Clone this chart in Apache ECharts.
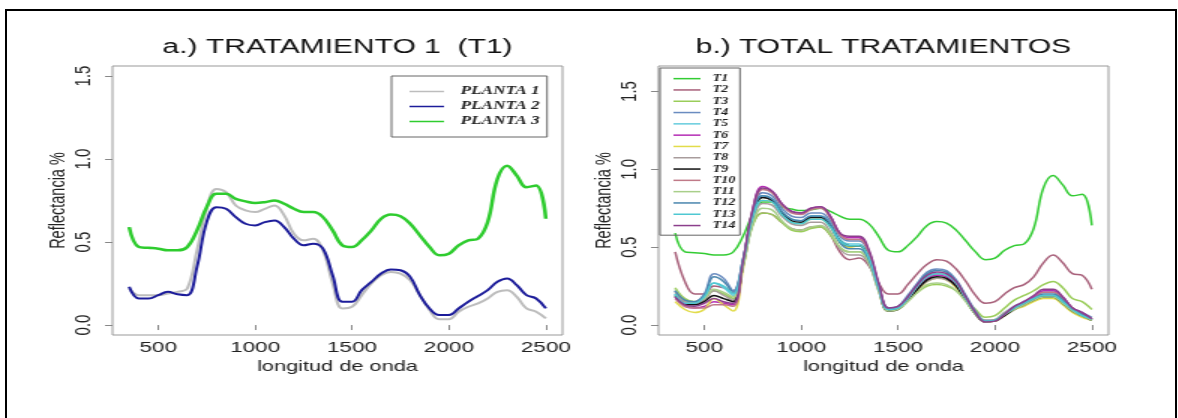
<!DOCTYPE html>
<html>
<head>
<meta charset="utf-8">
<title>Reflectancia</title>
<script src="https://cdn.jsdelivr.net/npm/echarts@6.0.0/dist/echarts.min.js"></script>
<style>
  html, body { margin: 0; padding: 0; background: #fff; }
  #chart { position: absolute; left: 0; top: 0; width: 785px; height: 418px;
           transform: scaleX(1.5); transform-origin: 0 0; }
  #frame { position: absolute; left: 5px; top: 9px; width: 1172px; height: 420px;
           border: 2.5px solid #000; border-bottom: none; box-sizing: border-box; pointer-events: none; }
</style>
</head>
<body>
<div id="chart"></div>
<div id="frame"></div>
<script>
// longitudes de onda (nm)
const wavelengths = [350, 400, 450, 500, 550, 600, 650, 700, 750, 800, 850, 900, 950, 1000, 1050, 1100,
  1150, 1200, 1250, 1300, 1350, 1400, 1450, 1500, 1550, 1600, 1650, 1700, 1750, 1800, 1850, 1900,
  1950, 2000, 2050, 2100, 2150, 2200, 2250, 2300, 2350, 2400, 2450, 2500]

const xTicks = [500, 1000, 1500, 2000, 2500]
const yTicks = [0, 0.5, 1.0, 1.5]

// a.) tratamiento 1
const planta1 = [0.22, 0.18, 0.18, 0.18, 0.19, 0.20, 0.22, 0.45, 0.70, 0.82, 0.80, 0.72, 0.69, 0.68, 0.70, 0.72,
  0.66, 0.55, 0.51, 0.52, 0.45, 0.25, 0.10, 0.11, 0.18, 0.25, 0.30, 0.32, 0.31, 0.27, 0.18, 0.09,
  0.035, 0.035, 0.08, 0.11, 0.13, 0.16, 0.20, 0.21, 0.17, 0.10, 0.08, 0.04]
const planta2 = [0.23, 0.16, 0.16, 0.18, 0.20, 0.185, 0.18, 0.35, 0.62, 0.71, 0.70, 0.65, 0.61, 0.60, 0.62, 0.63,
  0.59, 0.52, 0.48, 0.49, 0.46, 0.30, 0.14, 0.14, 0.21, 0.26, 0.31, 0.335, 0.33, 0.29, 0.18, 0.10,
  0.06, 0.06, 0.10, 0.14, 0.175, 0.21, 0.26, 0.28, 0.24, 0.18, 0.16, 0.10]
const planta3 = [0.59, 0.47, 0.465, 0.46, 0.45, 0.45, 0.47, 0.57, 0.71, 0.79, 0.79, 0.76, 0.745, 0.735, 0.74, 0.75,
  0.73, 0.70, 0.68, 0.68, 0.65, 0.57, 0.48, 0.47, 0.51, 0.57, 0.64, 0.665, 0.655, 0.61, 0.54, 0.47,
  0.42, 0.43, 0.48, 0.51, 0.52, 0.62, 0.88, 0.96, 0.90, 0.83, 0.84, 0.64]

// b.) total tratamientos
const t1 = planta3
const t2 = [0.47, 0.28, 0.20, 0.20, 0.25, 0.24, 0.22, 0.40, 0.65, 0.72, 0.71, 0.66, 0.62, 0.61, 0.63, 0.63,
  0.58, 0.47, 0.42, 0.43, 0.38, 0.27, 0.20, 0.20, 0.26, 0.33, 0.39, 0.42, 0.41, 0.36, 0.28, 0.19,
  0.14, 0.15, 0.20, 0.24, 0.26, 0.31, 0.40, 0.45, 0.40, 0.33, 0.32, 0.23]
const t3 = [0.24, 0.17, 0.15, 0.17, 0.22, 0.20, 0.17, 0.38, 0.64, 0.72, 0.71, 0.66, 0.61, 0.60, 0.62, 0.63,
  0.58, 0.50, 0.47, 0.47, 0.40, 0.23, 0.10, 0.11, 0.16, 0.21, 0.25, 0.26, 0.25, 0.22, 0.16, 0.10,
  0.05, 0.06, 0.11, 0.16, 0.19, 0.22, 0.26, 0.28, 0.24, 0.17, 0.15, 0.10]
const t4 = [0.22, 0.15, 0.15, 0.20, 0.33, 0.30, 0.22, 0.42, 0.72, 0.85, 0.83, 0.75, 0.70, 0.69, 0.72, 0.72,
  0.67, 0.57, 0.54, 0.54, 0.46, 0.26, 0.11, 0.12, 0.19, 0.27, 0.34, 0.36, 0.35, 0.29, 0.19, 0.09,
  0.03, 0.035, 0.08, 0.12, 0.15, 0.18, 0.21, 0.21, 0.17, 0.11, 0.08, 0.05]
const t5 = [0.20, 0.14, 0.14, 0.18, 0.27, 0.24, 0.19, 0.41, 0.71, 0.83, 0.81, 0.73, 0.68, 0.67, 0.70, 0.70,
  0.65, 0.55, 0.52, 0.52, 0.44, 0.24, 0.10, 0.11, 0.17, 0.25, 0.31, 0.33, 0.32, 0.27, 0.17, 0.08,
  0.025, 0.03, 0.07, 0.11, 0.14, 0.17, 0.19, 0.19, 0.15, 0.09, 0.06, 0.03]
const t6 = [0.18, 0.12, 0.11, 0.12, 0.15, 0.14, 0.13, 0.40, 0.74, 0.89, 0.86, 0.78, 0.73, 0.72, 0.75, 0.76,
  0.70, 0.59, 0.56, 0.56, 0.47, 0.26, 0.10, 0.11, 0.17, 0.24, 0.30, 0.32, 0.31, 0.26, 0.17, 0.08,
  0.02, 0.025, 0.07, 0.11, 0.15, 0.18, 0.22, 0.22, 0.18, 0.11, 0.08, 0.04]
const t7 = [0.15, 0.10, 0.08, 0.10, 0.17, 0.13, 0.09, 0.36, 0.68, 0.80, 0.79, 0.71, 0.66, 0.65, 0.68, 0.68,
  0.63, 0.53, 0.50, 0.51, 0.43, 0.23, 0.09, 0.10, 0.16, 0.22, 0.28, 0.30, 0.29, 0.24, 0.16, 0.07,
  0.02, 0.025, 0.06, 0.10, 0.12, 0.15, 0.17, 0.17, 0.13, 0.08, 0.05, 0.03]
const t8 = [0.21, 0.15, 0.14, 0.16, 0.22, 0.19, 0.16, 0.38, 0.66, 0.78, 0.77, 0.70, 0.65, 0.64, 0.66, 0.66,
  0.60, 0.49, 0.45, 0.45, 0.39, 0.22, 0.09, 0.10, 0.16, 0.23, 0.28, 0.30, 0.29, 0.25, 0.16, 0.08,
  0.03, 0.035, 0.08, 0.11, 0.14, 0.17, 0.19, 0.19, 0.15, 0.10, 0.07, 0.04]
const t9 = [0.19, 0.13, 0.13, 0.15, 0.19, 0.17, 0.15, 0.39, 0.70, 0.82, 0.80, 0.72, 0.67, 0.66, 0.69, 0.69,
  0.64, 0.54, 0.51, 0.51, 0.43, 0.24, 0.09, 0.10, 0.16, 0.23, 0.29, 0.31, 0.30, 0.25, 0.16, 0.07,
  0.02, 0.025, 0.06, 0.10, 0.13, 0.16, 0.18, 0.18, 0.14, 0.09, 0.06, 0.03]
const t10 = [0.17, 0.12, 0.11, 0.11, 0.13, 0.13, 0.12, 0.40, 0.73, 0.87, 0.85, 0.77, 0.72, 0.71, 0.74, 0.75,
  0.69, 0.58, 0.55, 0.55, 0.46, 0.25, 0.10, 0.11, 0.17, 0.25, 0.31, 0.33, 0.32, 0.27, 0.17, 0.08,
  0.02, 0.025, 0.07, 0.11, 0.14, 0.17, 0.21, 0.21, 0.17, 0.11, 0.07, 0.04]
const t11 = [0.23, 0.16, 0.15, 0.17, 0.23, 0.21, 0.18, 0.38, 0.65, 0.75, 0.74, 0.67, 0.62, 0.61, 0.63, 0.64,
  0.59, 0.50, 0.47, 0.47, 0.40, 0.22, 0.09, 0.10, 0.15, 0.21, 0.26, 0.27, 0.26, 0.22, 0.15, 0.07,
  0.02, 0.03, 0.07, 0.10, 0.13, 0.16, 0.18, 0.18, 0.14, 0.09, 0.06, 0.03]
const t12 = [0.22, 0.16, 0.15, 0.19, 0.31, 0.28, 0.21, 0.42, 0.71, 0.83, 0.81, 0.73, 0.68, 0.67, 0.70, 0.70,
  0.65, 0.53, 0.49, 0.49, 0.42, 0.24, 0.10, 0.11, 0.18, 0.26, 0.33, 0.35, 0.34, 0.28, 0.18, 0.08,
  0.025, 0.03, 0.07, 0.11, 0.14, 0.17, 0.20, 0.20, 0.16, 0.10, 0.07, 0.04]
const t13 = [0.20, 0.14, 0.14, 0.18, 0.27, 0.25, 0.20, 0.41, 0.69, 0.80, 0.79, 0.71, 0.66, 0.65, 0.68, 0.68,
  0.63, 0.54, 0.51, 0.51, 0.43, 0.24, 0.10, 0.11, 0.17, 0.25, 0.31, 0.33, 0.32, 0.27, 0.17, 0.08,
  0.025, 0.03, 0.07, 0.11, 0.14, 0.17, 0.19, 0.19, 0.15, 0.10, 0.06, 0.04]
const t14 = [0.18, 0.13, 0.12, 0.14, 0.17, 0.15, 0.14, 0.41, 0.74, 0.88, 0.86, 0.78, 0.73, 0.72, 0.75, 0.76,
  0.70, 0.59, 0.57, 0.57, 0.48, 0.27, 0.11, 0.12, 0.18, 0.26, 0.32, 0.34, 0.33, 0.28, 0.18, 0.08,
  0.02, 0.025, 0.07, 0.12, 0.15, 0.19, 0.23, 0.23, 0.18, 0.11, 0.08, 0.04]

const plantNames = ['PLANTA 1', 'PLANTA 2', 'PLANTA 3']
const plantColors = ['#bdbdbd', '#1c1c9a', '#2ecc2e']
const plantData = [planta1, planta2, planta3]

const tratNames = ['T1', 'T2', 'T3', 'T4', 'T5', 'T6', 'T7', 'T8', 'T9', 'T10', 'T11', 'T12', 'T13', 'T14']
const tratColors = ['#33cc33', '#a8607a', '#9acd5a', '#6a8cc0', '#66ccdd', '#b52db5', '#e2dc4a',
  '#a89c9c', '#111111', '#c07a88', '#a9cf8a', '#4a86ae', '#4fc8d2', '#8c3f8c']
const tratData = [t1, t2, t3, t4, t5, t6, t7, t8, t9, t10, t11, t12, t13, t14]

const pairs = vals => wavelengths.map((w, i) => [w, vals[i]])

const FONT = 'Liberation Sans, Arial, sans-serif'

function makeX(idx) {
  return {
    type: 'value', gridIndex: idx, min: 264, max: 2586,
    name: 'longitud de onda', nameLocation: 'middle', nameGap: 19,
    nameTextStyle: { fontFamily: FONT, fontSize: 14.5, color: '#222' },
    axisLine: { show: false },
    splitLine: { show: false },
    axisTick: { show: true, customValues: xTicks, length: 5, lineStyle: { color: '#888' } },
    axisLabel: { customValues: xTicks, margin: 5, fontFamily: FONT, fontSize: 15, color: '#222',
      formatter: v => String(v) }
  }
}

function makeY(idx, min, max) {
  return {
    type: 'value', gridIndex: idx, min: min, max: max,
    name: 'Reflectancia %', nameLocation: 'middle', nameGap: 29,
    nameTextStyle: { fontFamily: FONT, fontSize: 14.5, color: '#222' },
    axisLine: { show: false },
    splitLine: { show: false },
    axisTick: { show: true, customValues: yTicks, length: 5, lineStyle: { color: '#888' } },
    axisLabel: { customValues: yTicks, rotate: 90, margin: 12, fontFamily: FONT, fontSize: 15, color: '#222',
      formatter: v => v.toFixed(1) }
  }
}

const legendText = size => ({
  fontFamily: 'Liberation Serif, Times New Roman, serif', fontStyle: 'italic', fontWeight: 'bold',
  fontSize: size, color: '#222'
})

const series = []
plantNames.forEach((n, i) => {
  series.push({
    name: n, type: 'line', xAxisIndex: 0, yAxisIndex: 0, data: pairs(plantData[i]),
    smooth: 0.4, symbol: 'none', color: plantColors[i],
    lineStyle: { width: i === 2 ? 2.5 : 2, color: plantColors[i] }
  })
})
tratNames.forEach((n, i) => {
  series.push({
    name: n, type: 'line', xAxisIndex: 1, yAxisIndex: 1, data: pairs(tratData[i]),
    smooth: 0.4, symbol: 'none', color: tratColors[i],
    lineStyle: { width: 1.5, color: tratColors[i] }
  })
})

const chart = echarts.init(document.getElementById('chart'))
chart.setOption({
  animation: false,
  backgroundColor: '#fff',
  title: [
    { text: 'a.) TRATAMIENTO 1  (T1)', left: 225, top: 37, padding: 0, textAlign: 'center',
      textStyle: { fontFamily: FONT, fontSize: 20, fontWeight: 'normal', color: '#111' } },
    { text: 'b.) TOTAL TRATAMIENTOS', left: 589, top: 37, padding: 0, textAlign: 'center',
      textStyle: { fontFamily: FONT, fontSize: 20, fontWeight: 'normal', color: '#111' } }
  ],
  grid: [
    { left: 75, top: 66, width: 300, height: 269, show: true, borderColor: '#999', borderWidth: 1,
      outerBoundsMode: 'none', containLabel: false },
    { left: 439, top: 66, width: 300, height: 269, show: true, borderColor: '#999', borderWidth: 1,
      outerBoundsMode: 'none', containLabel: false }
  ],
  xAxis: [makeX(0), makeX(1)],
  yAxis: [makeY(0, -0.06, 1.56), makeY(1, -0.064, 1.664)],
  legend: [
    { data: plantNames, orient: 'vertical', left: 261, top: 76, padding: [8, 5, 8, 12],
      itemWidth: 23, itemHeight: 1.5, itemGap: 0, icon: 'rect', selectedMode: false,
      borderColor: '#666', borderWidth: 1,
      textStyle: Object.assign(legendText(11.5), { lineHeight: 15, padding: [0, 0, 0, 6] }) },
    { data: tratNames, orient: 'vertical', left: 440, top: 68, padding: [5, 3, 4, 9],
      itemWidth: 18, itemHeight: 1.5, itemGap: 0, icon: 'rect', selectedMode: false,
      borderColor: '#666', borderWidth: 1,
      textStyle: Object.assign(legendText(9.5), { lineHeight: 11.3, padding: [0, 0, 0, 3] }) }
  ],
  series: series
})
</script>
</body>
</html>
